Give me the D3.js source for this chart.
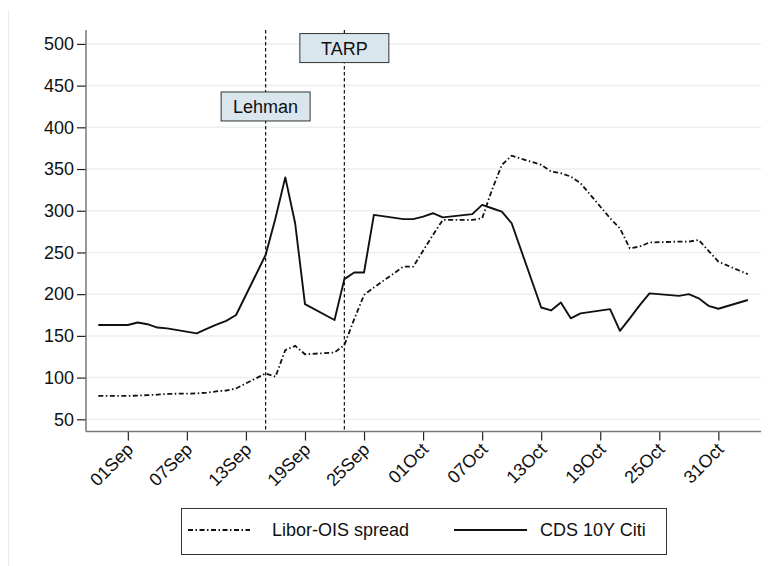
<!DOCTYPE html>
<html lang="en">
<head>
<meta charset="UTF-8">
<title>Libor-OIS spread and CDS 10Y Citi</title>
<script src="https://cdnjs.cloudflare.com/ajax/libs/d3/7.8.5/d3.min.js"></script>
<style>
  body { margin: 0; background: #fff; }
  svg { display: block; font-family: Arial, "Liberation Sans", sans-serif; }
</style>
</head>
<body>
<svg id="canvas" width="768" height="566"></svg>
<script>
// business days, end of Aug to start of Nov 2008
let dates = [
  '2008-08-29', '2008-09-01', '2008-09-02', '2008-09-03', '2008-09-04', '2008-09-05',
  '2008-09-08', '2008-09-09', '2008-09-10', '2008-09-11', '2008-09-12',
  '2008-09-15', '2008-09-16', '2008-09-17', '2008-09-18', '2008-09-19',
  '2008-09-22', '2008-09-23', '2008-09-24', '2008-09-25', '2008-09-26',
  '2008-09-29', '2008-09-30', '2008-10-01', '2008-10-02', '2008-10-03',
  '2008-10-06', '2008-10-07', '2008-10-08', '2008-10-09', '2008-10-10',
  '2008-10-13', '2008-10-14', '2008-10-15', '2008-10-16', '2008-10-17',
  '2008-10-20', '2008-10-21', '2008-10-22', '2008-10-23', '2008-10-24',
  '2008-10-27', '2008-10-28', '2008-10-29', '2008-10-30', '2008-10-31',
  '2008-11-03'
]
let liborOis = [
  78, 78, 78.5, 79, 79.5, 80.5,
  81, 82, 83.5, 84.5, 87,
  105, 101, 133, 138, 128,
  130, 139, 170, 199, 208,
  233, 233, 252, 271, 289,
  289, 291, 325, 355, 366,
  355, 347, 345, 341, 333,
  291, 279, 255, 257, 262,
  263, 263, 265, 252, 239,
  224
]
let cdsCiti = [
  163, 163, 166, 164, 160, 159,
  153, 158.5, 163.5, 168, 175,
  247, 291, 340, 285, 188,
  169, 218, 226, 226, 295,
  290, 290, 293, 297, 292,
  296, 307, 303, 299, 285,
  184, 180.5, 190, 171, 177,
  182, 156, 171, 186.5, 201,
  198, 200, 195, 186, 182.5,
  193
]
let yTicks = [50, 100, 150, 200, 250, 300, 350, 400, 450, 500]
let xTickLabels = ['01Sep', '07Sep', '13Sep', '19Sep', '25Sep', '01Oct', '07Oct', '13Oct', '19Oct', '25Oct', '31Oct']
let eventNames = ['Lehman', 'TARP']
let eventDates = ['2008-09-15', '2008-09-23']
let eventLevels = [425, 495]
let seriesNames = ['Libor-OIS spread', 'CDS 10Y Citi']

let parseDate = d3.utcParse('%Y-%m-%d')
let parseTick = d3.utcParse('%d%b%Y')

let plotLeft = 86, plotRight = 761, plotTop = 30, plotBottom = 431.5

let canvas = d3.select('#canvas')

let x = d3.scaleUtc()
  .domain([new Date(Date.UTC(2008, 7, 27, 18)), new Date(Date.UTC(2008, 10, 4, 8))])
  .range([plotLeft, plotRight])
let y = d3.scaleLinear()
  .domain([50, 500])
  .range([419.3, 43.9])

// faint outer frame
canvas.append('line')
  .attr('x1', 8.5).attr('x2', 8.5)
  .attr('y1', 10).attr('y2', 566)
  .attr('stroke', '#e8eff0')
  .attr('stroke-width', 1)

// grid
canvas.append('g')
  .selectAll('line')
  .data(yTicks)
  .enter()
  .append('line')
  .attr('x1', plotLeft).attr('x2', plotRight)
  .attr('y1', d => y(d)).attr('y2', d => y(d))
  .attr('stroke', '#e9f0f2')
  .attr('stroke-width', 1.5)

// y axis
let yAxis = canvas.append('g')
  .attr('transform', `translate(${plotLeft},0)`)
  .call(d3.axisLeft(y).tickValues(yTicks).tickSize(9).tickPadding(3))
yAxis.select('.domain').remove()
yAxis.selectAll('line').attr('stroke', '#222').attr('stroke-width', 1.2)
yAxis.selectAll('text').attr('font-size', 18).attr('fill', '#111').attr('font-family', 'Arial, "Liberation Sans", sans-serif')

// x axis
let tickDates = xTickLabels.map(s => parseTick(s + '2008'))
let xAxis = canvas.append('g')
  .attr('transform', `translate(0,${plotBottom})`)
  .call(d3.axisBottom(x).tickValues(tickDates).tickSize(9).tickFormat(d3.utcFormat('%d%b')))
xAxis.select('.domain').remove()
xAxis.selectAll('line').attr('stroke', '#222').attr('stroke-width', 1.2)
xAxis.selectAll('text')
  .attr('font-size', 18)
  .attr('fill', '#111')
  .attr('font-family', 'Arial, "Liberation Sans", sans-serif')
  .attr('text-anchor', 'end')
  .attr('y', 0)
  .attr('dy', '0.71em')
  .attr('transform', 'translate(-3,10) rotate(-45)')

// axis lines
canvas.append('line')
  .attr('x1', plotLeft).attr('x2', plotLeft)
  .attr('y1', plotTop).attr('y2', plotBottom)
  .attr('stroke', '#777').attr('stroke-width', 1.5)
canvas.append('line')
  .attr('x1', plotLeft).attr('x2', plotRight)
  .attr('y1', plotBottom).attr('y2', plotBottom)
  .attr('stroke', '#777').attr('stroke-width', 1.5)

// event lines
canvas.append('g')
  .selectAll('line')
  .data(eventDates)
  .enter()
  .append('line')
  .attr('x1', d => x(parseDate(d))).attr('x2', d => x(parseDate(d)))
  .attr('y1', plotTop).attr('y2', plotBottom)
  .attr('stroke', '#111')
  .attr('stroke-width', 1.2)
  .attr('stroke-dasharray', '3.5,2.5')

// series
let rows = dates.map((d, i) => ({ date: parseDate(d), libor: liborOis[i], cds: cdsCiti[i] }))

let liborLine = d3.line().x(d => x(d.date)).y(d => y(d.libor))
let cdsLine = d3.line().x(d => x(d.date)).y(d => y(d.cds))

canvas.append('path')
  .datum(rows)
  .attr('d', liborLine)
  .attr('fill', 'none')
  .attr('stroke', '#111')
  .attr('stroke-width', 1.8)
  .attr('stroke-dasharray', '5,2.5,1.5,2.5')

canvas.append('path')
  .datum(rows)
  .attr('d', cdsLine)
  .attr('fill', 'none')
  .attr('stroke', '#111')
  .attr('stroke-width', 1.9)
  .attr('stroke-linejoin', 'round')

// event labels
let labels = canvas.append('g')
  .selectAll('g')
  .data(eventNames)
  .enter()
  .append('g')
  .attr('transform', (d, i) => `translate(${x(parseDate(eventDates[i]))},${y(eventLevels[i])})`)
labels.append('rect')
  .attr('x', -44.5).attr('y', -14.5)
  .attr('width', 89).attr('height', 29)
  .attr('fill', '#d9e6ee')
  .attr('stroke', '#333')
  .attr('stroke-width', 1)
labels.append('text')
  .attr('text-anchor', 'middle')
  .attr('dy', '0.36em')
  .attr('font-size', 18)
  .attr('fill', '#111')
  .text(d => d)

// legend
let legend = canvas.append('g')
legend.append('rect')
  .attr('x', 181.5).attr('y', 508.5)
  .attr('width', 485).attr('height', 46)
  .attr('fill', '#fff')
  .attr('stroke', '#333')
  .attr('stroke-width', 1)
legend.append('line')
  .attr('x1', 188).attr('x2', 250)
  .attr('y1', 530).attr('y2', 530)
  .attr('stroke', '#111').attr('stroke-width', 1.8)
  .attr('stroke-dasharray', '5,2.5,1.5,2.5')
legend.append('text')
  .attr('x', 272).attr('y', 530).attr('dy', '0.36em')
  .attr('font-size', 18).attr('fill', '#111')
  .text(seriesNames[0])
legend.append('line')
  .attr('x1', 454).attr('x2', 527)
  .attr('y1', 530).attr('y2', 530)
  .attr('stroke', '#111').attr('stroke-width', 1.9)
legend.append('text')
  .attr('x', 540).attr('y', 530).attr('dy', '0.36em')
  .attr('font-size', 18).attr('fill', '#111')
  .text(seriesNames[1])
</script>
</body>
</html>
